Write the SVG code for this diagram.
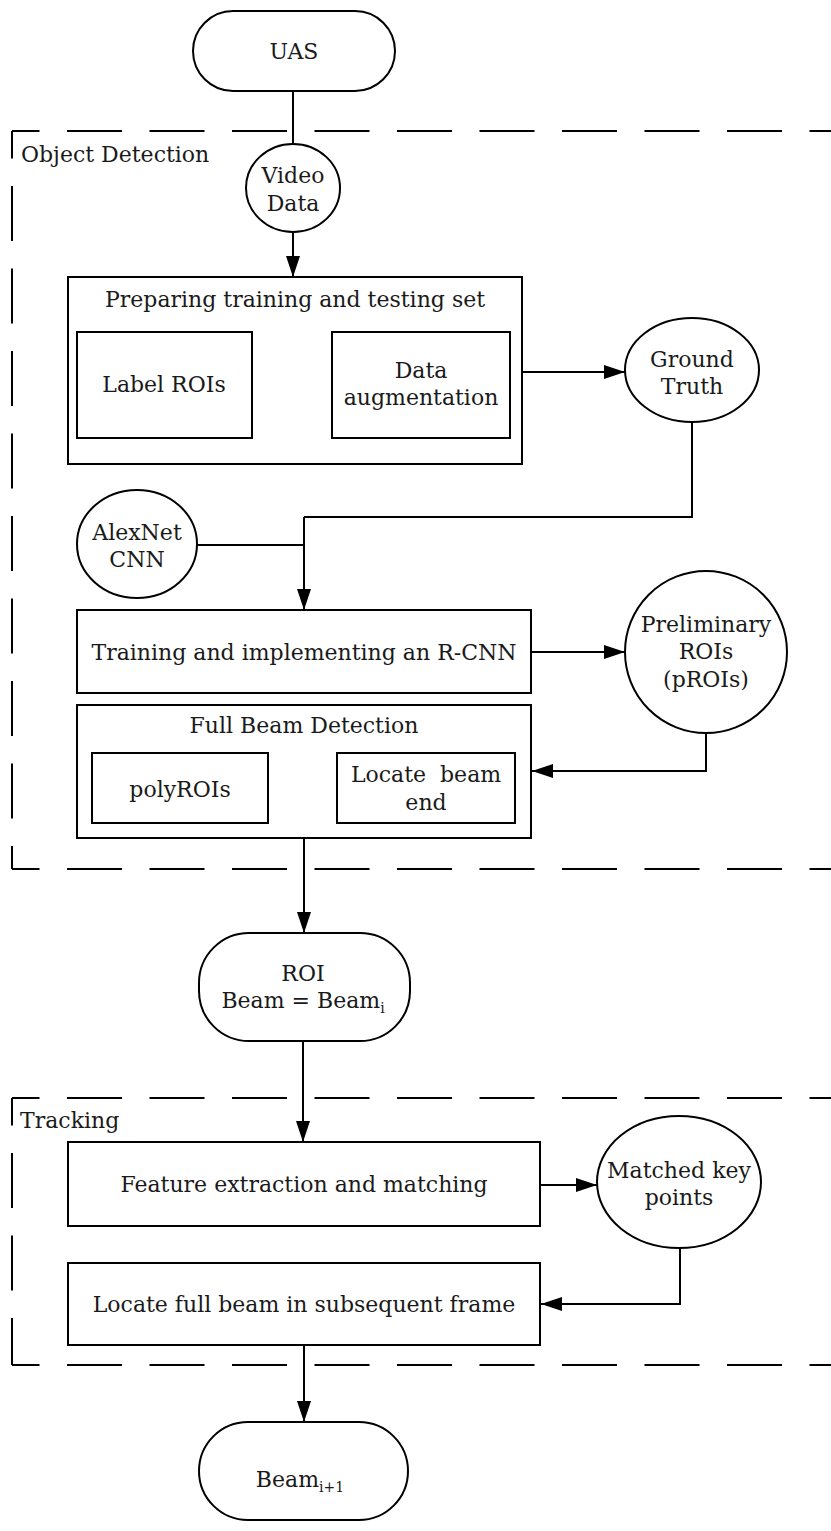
<svg xmlns="http://www.w3.org/2000/svg" width="831" height="1531" viewBox="0 0 831 1531">
<defs>
<marker id="ah" markerWidth="21" markerHeight="14" refX="21" refY="7" orient="auto" markerUnits="userSpaceOnUse">
<path d="M0,0 L21,7 L0,14 Z" fill="#000"/>
</marker>
<style>
text{font-family:"DejaVu Serif","Liberation Serif",serif;font-size:22px;fill:#1a1a1a;text-anchor:middle}
.lbl{text-anchor:start}
.sub{font-size:14px}
.box{fill:#fff;stroke:#000;stroke-width:2}
.dash{fill:none;stroke:#000;stroke-width:2;stroke-dasharray:55 27.5;stroke-dashoffset:27.5}
.ln{fill:none;stroke:#000;stroke-width:2}
.arr{fill:none;stroke:#000;stroke-width:2;marker-end:url(#ah)}
</style>
</defs>
<rect width="831" height="1531" fill="#fff"/>
<g id="group-object-detection">
<path class="dash" d="M12,131 H840"/>
<path class="dash" d="M12,131 V869"/>
<path class="dash" d="M12,869 H840"/>
<text class="lbl" x="21" y="162">Object Detection</text>
</g>
<g id="group-tracking">
<path class="dash" d="M12,1098 H840"/>
<path class="dash" d="M12,1098 V1365"/>
<path class="dash" d="M12,1365 H840"/>
<text class="lbl" x="20" y="1128">Tracking</text>
</g>
<g id="connectors">
<path class="ln" d="M293,91 V144"/>
<path class="arr" d="M293,233 V277"/>
<path class="arr" d="M252,385 H332"/>
<path class="arr" d="M522,372 H625"/>
<path class="ln" d="M692,422 V517 H304"/>
<path class="ln" d="M197,545 H304"/>
<path class="arr" d="M304,517 V610"/>
<path class="arr" d="M531,652 H625"/>
<path class="arr" d="M706,733 V771 H532"/>
<path class="arr" d="M268,788 H337"/>
<path class="arr" d="M304,838 V933"/>
<path class="arr" d="M303,1041 V1142"/>
<path class="arr" d="M540,1185 H597"/>
<path class="arr" d="M680,1248 V1304 H541"/>
<path class="arr" d="M304,1345 V1422"/>
</g>
<g id="uas">
<rect class="box" x="193" y="11" width="202" height="80" rx="40"/>
<text x="294" y="59">UAS</text>
</g>
<g id="video-data">
<ellipse class="box" cx="293" cy="188" rx="47" ry="44"/>
<text x="293" y="183">Video</text>
<text x="293" y="211">Data</text>
</g>
<g id="preparing">
<rect class="box" x="68" y="277" width="454" height="187"/>
<text x="295" y="307">Preparing training and testing set</text>
</g>
<g id="label-rois">
<rect class="box" x="77" y="332" width="175" height="106"/>
<text x="164" y="392">Label ROIs</text>
</g>
<g id="data-augmentation">
<rect class="box" x="332" y="332" width="178" height="106"/>
<text x="421" y="378">Data</text>
<text x="421" y="405">augmentation</text>
</g>
<g id="ground-truth">
<ellipse class="box" cx="692" cy="370" rx="67" ry="52"/>
<text x="692" y="367">Ground</text>
<text x="692" y="394">Truth</text>
</g>
<g id="alexnet">
<ellipse class="box" cx="137" cy="544" rx="60" ry="54"/>
<text x="137" y="540">AlexNet</text>
<text x="137" y="567">CNN</text>
</g>
<g id="training">
<rect class="box" x="77" y="610" width="454" height="83"/>
<text x="304" y="660">Training and implementing an R-CNN</text>
</g>
<g id="preliminary">
<circle class="box" cx="706" cy="652" r="81"/>
<text x="706" y="632">Preliminary</text>
<text x="706" y="659">ROIs</text>
<text x="706" y="687">(pROIs)</text>
</g>
<g id="full-beam">
<rect class="box" x="77" y="705" width="454" height="133"/>
<text x="304" y="733">Full Beam Detection</text>
</g>
<g id="polyrois">
<rect class="box" x="92" y="753" width="176" height="70"/>
<text x="180" y="797">polyROIs</text>
</g>
<g id="locate-beam-end">
<rect class="box" x="337" y="753" width="178" height="70"/>
<text x="426" y="782" xml:space="preserve">Locate  beam</text>
<text x="426" y="810">end</text>
</g>
<g id="roi">
<rect class="box" x="199" y="933" width="211" height="108" rx="50"/>
<text x="303" y="981">ROI</text>
<text x="303" y="1008">Beam = Beam<tspan class="sub" dy="5">i</tspan></text>
</g>
<g id="feature">
<rect class="box" x="68" y="1142" width="472" height="84"/>
<text x="304" y="1192">Feature extraction and matching</text>
</g>
<g id="matched">
<ellipse class="box" cx="679" cy="1182" rx="82" ry="66"/>
<text x="679" y="1178">Matched key</text>
<text x="679" y="1205">points</text>
</g>
<g id="locate-full">
<rect class="box" x="68" y="1263" width="472" height="82"/>
<text x="304" y="1312">Locate full beam in subsequent frame</text>
</g>
<g id="beam-next">
<rect class="box" x="199" y="1422" width="209" height="98" rx="49"/>
<text x="300" y="1487">Beam<tspan class="sub" dy="5">i+1</tspan></text>
</g>
</svg>
